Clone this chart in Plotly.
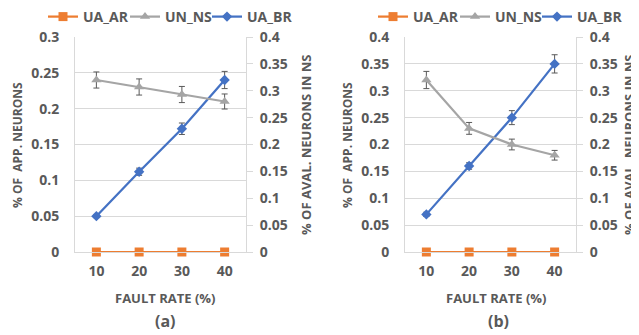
import plotly.graph_objects as go

fault_rate = ["10", "20", "30", "40"]

# Panel (a)
a_ua_ar = [0, 0, 0, 0]
a_un_ns = [0.32, 0.307, 0.293, 0.28]        # right axis
a_un_ns_err = [0.015, 0.015, 0.015, 0.014]
a_ua_br = [0.05, 0.112, 0.172, 0.24]        # left axis
a_ua_br_err = [0.002, 0.005, 0.008, 0.012]

# Panel (b)
b_ua_ar = [0, 0, 0, 0]
b_un_ns = [0.32, 0.23, 0.20, 0.18]          # right axis
b_un_ns_err = [0.016, 0.011, 0.01, 0.009]
b_ua_br = [0.07, 0.16, 0.25, 0.35]          # left axis
b_ua_br_err = [0.004, 0.006, 0.013, 0.017]

ORANGE = "#ED7D31"
GRAY = "#A5A5A5"
BLUE = "#4472C4"
TXT = "#595959"
GRID = "#D9D9D9"
ERR = "#595959"
FONT = "Open Sans"

# page body has an 8px margin: figure is placed at (8, 8) in the window
OFF = 8
W, H = 639 - OFF, 335 - OFF
def px(x):
    return (x - OFF) / W
def py(y):
    return (H - (y - OFF)) / H

fig = go.Figure()

def add_panel(xa, ya_left, ya_right, legend, ar, ns, ns_err, br, br_err):
    fig.add_trace(go.Scatter(x=fault_rate, y=ar, name="UA_AR", mode="lines+markers",
                             line=dict(color=ORANGE, width=2.25),
                             marker=dict(symbol="square", size=9, color=ORANGE),
                             cliponaxis=False, legendwidth=37,
                             xaxis=xa, yaxis=ya_left, legend=legend))
    fig.add_trace(go.Scatter(x=fault_rate, y=ns, name="UN_NS", mode="lines+markers",
                             line=dict(color=GRAY, width=2.25),
                             marker=dict(symbol="triangle-up", size=9, color=GRAY),
                             error_y=dict(type="data", array=ns_err, color=ERR, thickness=1, width=3),
                             cliponaxis=False, legendwidth=37,
                             xaxis=xa, yaxis=ya_right, legend=legend))
    fig.add_trace(go.Scatter(x=fault_rate, y=br, name="UA_BR", mode="lines+markers",
                             line=dict(color=BLUE, width=2.25),
                             marker=dict(symbol="diamond", size=8, color=BLUE),
                             error_y=dict(type="data", array=br_err, color=ERR, thickness=1, width=3),
                             cliponaxis=False, legendwidth=50,
                             xaxis=xa, yaxis=ya_left, legend=legend))

add_panel("x", "y", "y2", "legend", a_ua_ar, a_un_ns, a_un_ns_err, a_ua_br, a_ua_br_err)
add_panel("x2", "y3", "y4", "legend2", b_ua_ar, b_un_ns, b_un_ns_err, b_ua_br, b_ua_br_err)

tickfont = dict(family=FONT, size=14, color=TXT, weight="bold")
ydom = [py(252), py(37)]

xcommon = dict(type="category", range=[-0.5, 3.5], showgrid=False, showline=True,
               linecolor=GRID, linewidth=1, ticks="", tickfont=tickfont, zeroline=False,
               ticklabelstandoff=6)
ycommon = dict(dtick=0.05, tickfont=tickfont, zeroline=False, tickformat="~g",
               showline=True, linecolor=GRID)
legfont = dict(family=FONT, size=14, color=TXT, weight="bold")
fig.update_layout(
    xaxis=dict(domain=[px(75), px(246)], anchor="y", **xcommon),
    xaxis2=dict(domain=[px(405), px(576)], anchor="y3", **xcommon),
    yaxis=dict(domain=ydom, anchor="x", range=[0, 0.3], showgrid=True, gridcolor=GRID,
               ticks="", ticklabelstandoff=12, **ycommon),
    yaxis2=dict(overlaying="y", side="right", anchor="x", range=[0, 0.4], showgrid=False,
                ticks="outside", ticklen=6, tickcolor=GRID, ticklabelstandoff=4, **ycommon),
    yaxis3=dict(domain=ydom, anchor="x2", range=[0, 0.4], showgrid=True, gridcolor=GRID,
                ticks="", ticklabelstandoff=12, **ycommon),
    yaxis4=dict(overlaying="y3", side="right", anchor="x2", range=[0, 0.4], showgrid=False,
                ticks="outside", ticklen=6, tickcolor=GRID, ticklabelstandoff=4, **ycommon),
    legend=dict(orientation="h", x=px(43), y=py(17), xanchor="left", yanchor="middle",
                font=legfont, bgcolor="rgba(0,0,0,0)", itemwidth=30, entrywidthmode="pixels"),
    legend2=dict(orientation="h", x=px(373), y=py(17), xanchor="left", yanchor="middle",
                 font=legfont, bgcolor="rgba(0,0,0,0)", itemwidth=30, entrywidthmode="pixels"),
    width=W, height=H,
    margin=dict(l=0, r=0, t=0, b=0, autoexpand=False),
    paper_bgcolor="white", plot_bgcolor="white",
    showlegend=True,
)

annots = []
def txt(x, y, text, size=13, angle=0):
    annots.append(dict(x=px(x), y=py(y), xref="paper", yref="paper", text=text,
                       showarrow=False, textangle=angle, xanchor="center", yanchor="middle",
                       borderpad=0,
                       font=dict(family=FONT, size=size, color=TXT, weight="bold")))

txt(165, 298, "FAULT RATE (%)", 13)
txt(496, 298, "FAULT RATE (%)", 13)
txt(165, 321, "(a)", 16)
txt(498, 321, "(b)", 16)
txt(17, 145, "% OF  APP. NEURONS", 12, -90)
txt(347, 145, "% OF  APP. NEURONS", 12, -90)
txt(306, 145, "% OF AVAL. NEURONS IN NS", 13, -90)
txt(629, 145, "% OF AVAL. NEURONS IN NS", 13, -90)
fig.update_layout(annotations=annots)

fig.write_html("out.html")
